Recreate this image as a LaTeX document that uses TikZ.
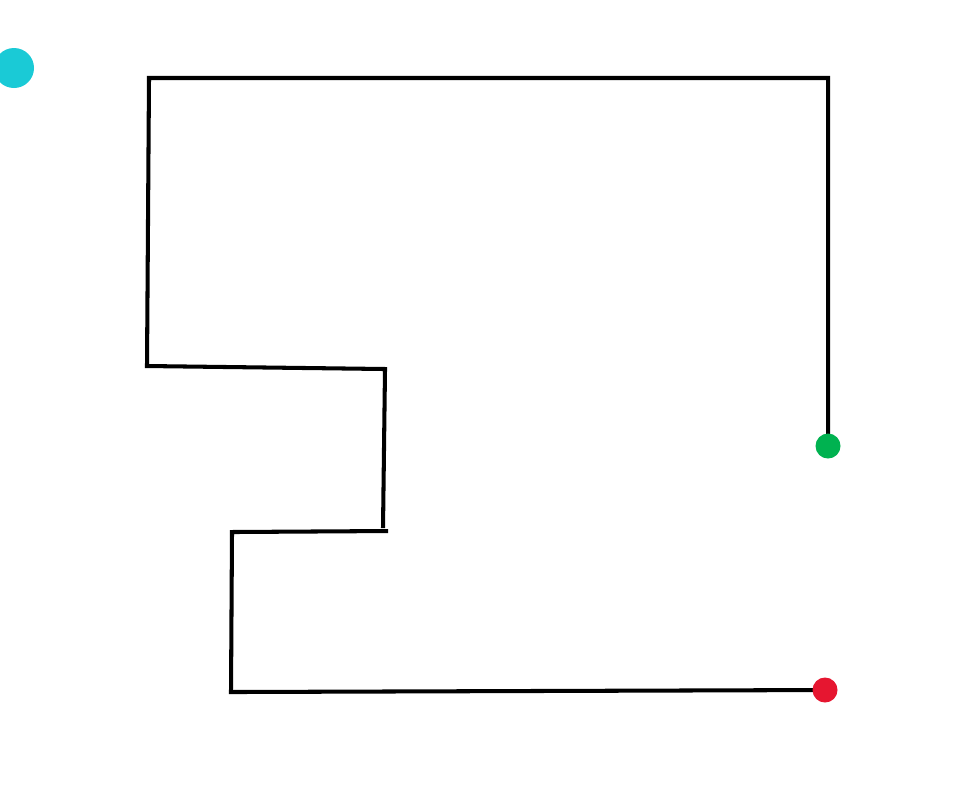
\documentclass[tikz,border=0pt]{standalone}
\usepackage{xcolor}
\usepackage{tikz}
\definecolor{dotcyan}{RGB}{26, 202, 214}
\definecolor{dotgreen}{RGB}{0, 178, 80}
\definecolor{dotred}{RGB}{230, 22, 48}

\begin{document}
\begin{tikzpicture}[
    x=0.01cm, y=-0.01cm,
    wall/.style={line width=1.15pt, black},
    dot/.style={circle, inner sep=0pt, draw=none}
  ]
    \clip (0,0) rectangle (965,787);
    \fill[white] (0,0) rectangle (965,787);
    % corners of the line
    \coordinate (c1) at (828,78);
    \coordinate (c2) at (149,78);
    \coordinate (c3) at (147,366);
    \coordinate (c4) at (385,369);
    \coordinate (c5) at (383,528);
    \coordinate (c6) at (388,531);
    \coordinate (c7) at (232,532);
    \coordinate (c8) at (231,692);
    \coordinate (gs) at (828,446);
    \coordinate (re) at (825,690);
    \draw[wall] (gs) -- (c1) -- (c2) -- (c3) -- (c4) -- (c5);
    \draw[wall] (c6) -- (c7) -- (c8) -- (re);
    % dots
    \node[dot, fill=dotcyan, minimum size=0.40cm] (start) at (14,68) {};
    \node[dot, fill=dotgreen, minimum size=0.25cm] (green) at (gs) {};
    \node[dot, fill=dotred, minimum size=0.25cm] (red) at (re) {};
  \end{tikzpicture}
\end{document}
